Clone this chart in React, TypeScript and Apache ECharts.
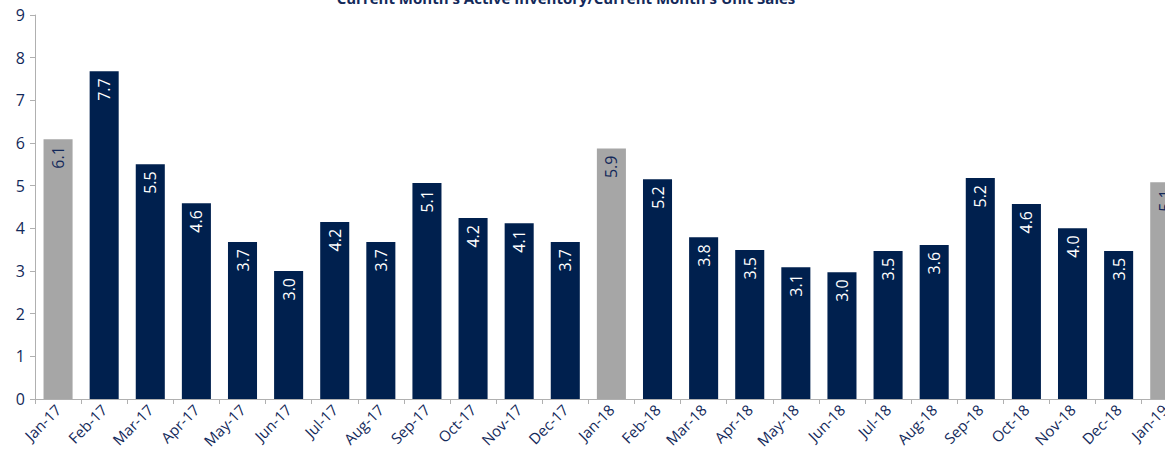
import React, { useEffect, useRef } from "react";
import * as echarts from "echarts";

const categories = [
  "Jan-17", "Feb-17", "Mar-17", "Apr-17", "May-17", "Jun-17", "Jul-17", "Aug-17", "Sep-17", "Oct-17", "Nov-17", "Dec-17",
  "Jan-18", "Feb-18", "Mar-18", "Apr-18", "May-18", "Jun-18", "Jul-18", "Aug-18", "Sep-18", "Oct-18", "Nov-18", "Dec-18",
  "Jan-19",
];
const values = [
  6.09, 7.68, 5.5, 4.59, 3.68, 3.0, 4.15, 3.68, 5.06, 4.24, 4.12, 3.68,
  5.87, 5.15, 3.79, 3.49, 3.09, 2.97, 3.47, 3.61, 5.18, 4.57, 4.0, 3.47,
  5.08,
];
const highlighted = ["Jan-17", "Jan-18", "Jan-19"];
const titleText = "Current Month's Active Inventory/Current Month's Unit Sales";

const NAVY = "#00204e";
const GRAY = "#a6a6a6";
const TEXT = "#13295a";
const FONT = "'Open Sans', 'Noto Sans', sans-serif";

export default function App() {
  const ref = useRef<HTMLDivElement>(null);
  useEffect(() => {
    if (!ref.current) return;
    const chart = echarts.init(ref.current, undefined, { renderer: "svg" });
    const data = values.map((v, i) => {
      const isGray = highlighted.includes(categories[i]);
      return {
        value: v,
        itemStyle: { color: isGray ? GRAY : NAVY },
        label: { color: isGray ? TEXT : "#ffffff" },
      };
    });
    chart.setOption({
      animation: false,
      textStyle: { fontFamily: FONT },
      grid: { left: 35, top: 15, width: 1152.8, height: 384, containLabel: false },
      graphic: [
        {
          type: "text",
          x: 566,
          y: 5,
          style: {
            text: titleText,
            fill: TEXT,
            font: `bold 15px ${FONT}`,
            textAlign: "center",
            textVerticalAlign: "bottom",
          },
        },
      ],
      xAxis: {
        type: "category",
        data: categories,
        axisLine: { lineStyle: { color: "#b0b0b0", width: 1 } },
        axisTick: { show: true, alignWithLabel: false, length: 5, lineStyle: { color: "#b0b0b0" } },
        axisLabel: { rotate: 45, color: TEXT, fontSize: 15, fontFamily: FONT, interval: 0, margin: 8 },
      },
      yAxis: {
        type: "value",
        min: 0,
        max: 9,
        interval: 1,
        axisLine: { show: true, lineStyle: { color: "#b0b0b0", width: 1 } },
        axisTick: { show: true, length: 5, lineStyle: { color: "#b0b0b0" } },
        splitLine: { show: false },
        axisLabel: { color: TEXT, fontSize: 16, fontFamily: FONT, margin: 10 },
      },
      series: [
        {
          type: "bar",
          data,
          barWidth: "63%",
          label: {
            show: true,
            position: "insideTop",
            rotate: 90,
            align: "right",
            verticalAlign: "middle",
            distance: 7,
            fontSize: 16,
            fontFamily: FONT,
            formatter: (p: any) => Number(p.value).toFixed(1),
          },
        },
      ],
    });
    return () => chart.dispose();
  }, []);
  return (
    <div style={{ position: "fixed", left: 0, top: 0, width: 1165, height: 455, overflow: "hidden", background: "#fff" }}>
      <div ref={ref} style={{ width: 1200, height: 455 }} />
    </div>
  );
}
